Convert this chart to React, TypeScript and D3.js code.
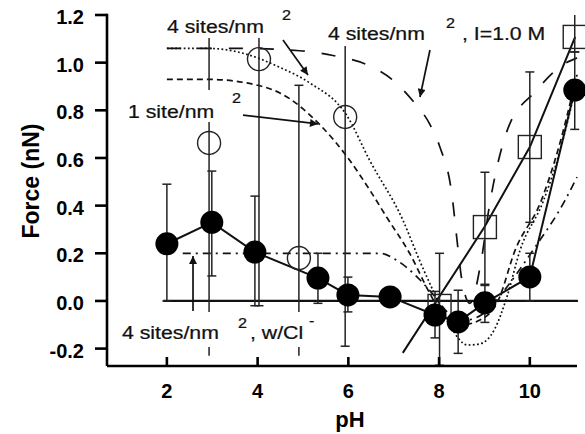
import React from "react";
import * as d3 from "d3";

const W = 585;
const H = 434;

const xTickValues = [2, 4, 6, 8, 10];
const yTickValues = [-0.2, 0.0, 0.2, 0.4, 0.6, 0.8, 1.0, 1.2];

// filled circles (measured)
const filledPH = [2.0, 2.99, 3.94, 5.33, 5.99, 6.92, 7.91, 8.42, 9.01, 10.0, 10.99];
const filledF = [0.24, 0.33, 0.205, 0.096, 0.025, 0.017, -0.059, -0.088, -0.008, 0.101, 0.885];
const filledLo = [0.0, 0.105, -0.02, -0.01, -0.046, 0.0, -0.155, -0.22, -0.09, 0.0, 0.72];
const filledHi = [0.49, 0.545, 0.44, 0.2, 0.1, 0.035, 0.04, 0.045, 0.07, 0.2, 1.045];

// open circles
const openPH = [2.93, 4.03, 4.91, 5.93];
const openF = [0.663, 1.015, 0.18, 0.772];
const openLo = [-0.23, -0.02, -0.23, -0.19];
const openHi = [1.55, 2.05, 0.905, 1.73];
const openCapLo = [false, true, false, true];

// open squares
const squarePH = [8.01, 9.01, 10.0, 10.99];
const squareF = [-0.021, 0.31, 0.646, 1.108];
const squareLo = [-0.27, 0.065, 0.33, 1.045];
const squareHi = [0.2, 0.54, 0.961, 1.21];

// solid line through squares
const fitPH = [7.2, 9.0, 10.0, 11.0];
const fitF = [-0.218, 0.31, 0.646, 1.108];

// theory: 4 sites/nm2 (dotted)
const dotPH = [2.0, 2.9, 3.76, 4.49, 5.15, 5.96, 6.47, 7.2, 7.57, 7.9, 8.23, 8.63, 8.9, 9.22, 9.5, 9.78, 10.3, 10.65, 11.04];
const dotF = [1.06, 1.06, 1.035, 0.98, 0.915, 0.78, 0.59, 0.34, 0.17, 0.03, -0.1, -0.185, -0.18, -0.12, 0.02, 0.21, 0.42, 0.62, 0.92];

// theory: 1 site/nm2 (dashed)
const dashPH = [2.0, 2.9, 4.0, 4.49, 5.37, 6.03, 6.47, 6.85, 7.35, 7.8, 8.12, 8.5, 8.9, 9.3, 9.67, 10.25, 10.6, 11.04];
const dashF = [0.93, 0.93, 0.905, 0.873, 0.74, 0.59, 0.466, 0.35, 0.2, 0.03, -0.07, -0.1, -0.08, 0.0, 0.21, 0.42, 0.62, 0.95];

// theory: 4 sites/nm2, I = 1.0 M (long dash)
const longPH = [2.0, 3.6, 4.93, 5.66, 6.43, 6.96, 7.42, 7.8, 8.01, 8.28, 8.41, 8.5, 8.68, 8.92, 9.11, 9.51, 10.13, 10.72, 11.04];
const longF = [1.06, 1.06, 1.05, 1.03, 0.99, 0.93, 0.84, 0.74, 0.65, 0.45, 0.23, 0.09, -0.01, 0.16, 0.4, 0.72, 0.88, 0.99, 1.02];

// theory: 4 sites/nm2, w/Cl- (dash-dot)
const clPH = [2.35, 6.7, 7.07, 7.29, 7.57, 7.9, 8.2, 8.6, 9.0, 9.5, 10.06, 10.77, 11.04];
const clF = [0.2, 0.2, 0.17, 0.14, 0.09, 0.02, -0.05, -0.08, -0.05, 0.06, 0.21, 0.42, 0.52];

const zeroLinePH = [1.92, 11.06];

const FONT = "'Liberation Sans', Arial, Helvetica, sans-serif";

function Lbl({ x, y, t, size = 18.5, sx = 1.15 }: { x: number; y: number; t: string; size?: number; sx?: number }) {
  return (
    <text
      transform={`translate(${x},${y}) scale(${sx},1)`}
      fontFamily={FONT}
      fontSize={size}
      fill="#111"
      stroke="#111"
      strokeWidth={0.25}
    >
      {t}
    </text>
  );
}

export default function App() {
  const x = d3.scaleLinear().domain([0.68, 11.04]).range([107, 577]);
  const y = d3.scaleLinear().domain([-0.273, 1.2]).range([366, 15]);

  const smooth = (xs: number[], ys: number[]) =>
    d3
      .line<number>()
      .x((d) => x(d))
      .y((_, i) => y(ys[i]))
      .curve(d3.curveMonotoneX)(xs) || "";
  const straight = (xs: number[], ys: number[]) =>
    d3
      .line<number>()
      .x((d) => x(d))
      .y((_, i) => y(ys[i]))(xs) || "";

  const capW = 4.5;
  const errBar = (key: string, px: number, lo: number, hi: number, capLo = true) => {
    const top = Math.min(hi, 1.2);
    const capHi = hi <= 1.2;
    const X = x(px);
    return (
      <g key={key}>
        <line x1={X} x2={X} y1={y(top)} y2={y(lo)} />
        {capHi && <line x1={X - capW} x2={X + capW} y1={y(hi)} y2={y(hi)} />}
        {capLo && <line x1={X - capW} x2={X + capW} y1={y(lo)} y2={y(lo)} />}
      </g>
    );
  };

  const R = 11.5;
  const S = 23;

  return (
    <svg
      width={W}
      height={H}
      viewBox={`0 0 ${W} ${H}`}
      style={{ position: "absolute", left: 0, top: 0, background: "#fff" }}
    >
      <defs>
        <marker id="ah" viewBox="0 0 10 10" refX="10" refY="5" markerUnits="userSpaceOnUse" markerWidth="13" markerHeight="8" orient="auto">
          <path d="M0,0 L10,5 L0,10 z" fill="#111" />
        </marker>
      </defs>
      <rect x={0} y={0} width={W} height={H} fill="#fff" />

      {/* zero line */}
      <line x1={x(zeroLinePH[0])} x2={x(zeroLinePH[1])} y1={y(0)} y2={y(0)} stroke="#111" strokeWidth={2.2} />

      {/* theory curves */}
      <g fill="none" stroke="#111" strokeWidth={1.7}>
        <path d={smooth(dotPH, dotF)} strokeDasharray="1.8,2.4" />
        <path d={smooth(dashPH, dashF)} strokeDasharray="6,4" />
        <path d={smooth(longPH, longF)} strokeDasharray="14,17" />
        <path d={smooth(clPH, clF)} strokeDasharray="8,5,2,5" />
      </g>

      {/* fit line and connecting line */}
      <path d={straight(fitPH, fitF)} fill="none" stroke="#111" strokeWidth={2} />
      <path d={straight(filledPH, filledF)} fill="none" stroke="#111" strokeWidth={2} />

      {/* error bars */}
      <g stroke="#222" strokeWidth={1.5}>
        {openPH.map((p, i) => errBar("o" + i, p, openLo[i], openHi[i], openCapLo[i]))}
        {squarePH.map((p, i) => errBar("s" + i, p, squareLo[i], squareHi[i]))}
        {filledPH.map((p, i) => errBar("f" + i, p, filledLo[i], filledHi[i]))}
      </g>

      {/* open markers */}
      <g fill="none" stroke="#222" strokeWidth={1.4}>
        {openPH.map((p, i) => (
          <circle key={"oc" + i} cx={x(p)} cy={y(openF[i])} r={R} />
        ))}
        {squarePH.map((p, i) => (
          <rect key={"sq" + i} x={x(p) - S / 2} y={y(squareF[i]) - S / 2} width={S} height={S} />
        ))}
      </g>

      {/* filled markers */}
      <g fill="#000">
        {filledPH.map((p, i) => (
          <circle key={"fc" + i} cx={x(p)} cy={y(filledF[i])} r={R} />
        ))}
      </g>

      {/* label backgrounds */}
      <g fill="#fff">
        <rect x={160} y={6} width={136} height={32} />
        <rect x={324} y={14} width={222} height={32} />
        <rect x={124} y={90} width={122} height={32} />
        <rect x={118} y={312} width={200} height={35} />
      </g>

      {/* labels */}
      <Lbl x={167} y={33} t="4 sites/nm" />
      <Lbl x={282} y={20} t="2" size={14} />
      <Lbl x={328} y={40} t="4 sites/nm" />
      <Lbl x={446} y={28} t="2" size={14} />
      <Lbl x={462} y={40} t=", I=1.0 M" />
      <Lbl x={128} y={118} t="1 site/nm" />
      <Lbl x={232} y={103} t="2" size={14} />
      <Lbl x={122} y={339} t="4 sites/nm" />
      <Lbl x={238} y={328} t="2" size={14} />
      <Lbl x={250} y={339} t=", w/Cl" />
      <Lbl x={309} y={326} t="-" size={14} />

      {/* arrows */}
      <g stroke="#111" strokeWidth={1.7} markerEnd="url(#ah)">
        <line x1={x(4.559)} y1={y(1.095)} x2={x(5.11)} y2={y(0.948)} />
        <line x1={x(3.678)} y1={y(0.78)} x2={x(5.331)} y2={y(0.743)} />
        <line x1={x(7.799)} y1={y(1.053)} x2={x(7.579)} y2={y(0.856)} />
        <line x1={x(2.576)} y1={y(-0.042)} x2={x(2.576)} y2={y(0.189)} />
      </g>

      {/* axes */}
      <g stroke="#000" strokeWidth={2.6} fill="none">
        <line x1={107} x2={107} y1={y(1.2) - 1.3} y2={366} />
        <line x1={107} x2={577} y1={366} y2={366} />
        {yTickValues.map((v) => (
          <line key={"yt" + v} x1={95} x2={107} y1={y(v)} y2={y(v)} />
        ))}
        {xTickValues.map((v) => (
          <line key={"xt" + v} x1={x(v)} x2={x(v)} y1={366} y2={357} />
        ))}
      </g>
      <g fontFamily={FONT} fontWeight="bold" fontSize={20} fill="#000">
        {yTickValues.map((v) => (
          <text key={"yl" + v} x={84} y={y(v) + 9} textAnchor="end">
            {v.toFixed(1)}
          </text>
        ))}
        {xTickValues.map((v) => (
          <text key={"xl" + v} x={x(v)} y={398} textAnchor="middle">
            {String(v)}
          </text>
        ))}
        <text x={350} y={427} textAnchor="middle" fontSize={22}>
          pH
        </text>
        <text transform={`translate(39,181) rotate(-90)`} textAnchor="middle" fontSize={23}>
          Force (nN)
        </text>
      </g>
    </svg>
  );
}
